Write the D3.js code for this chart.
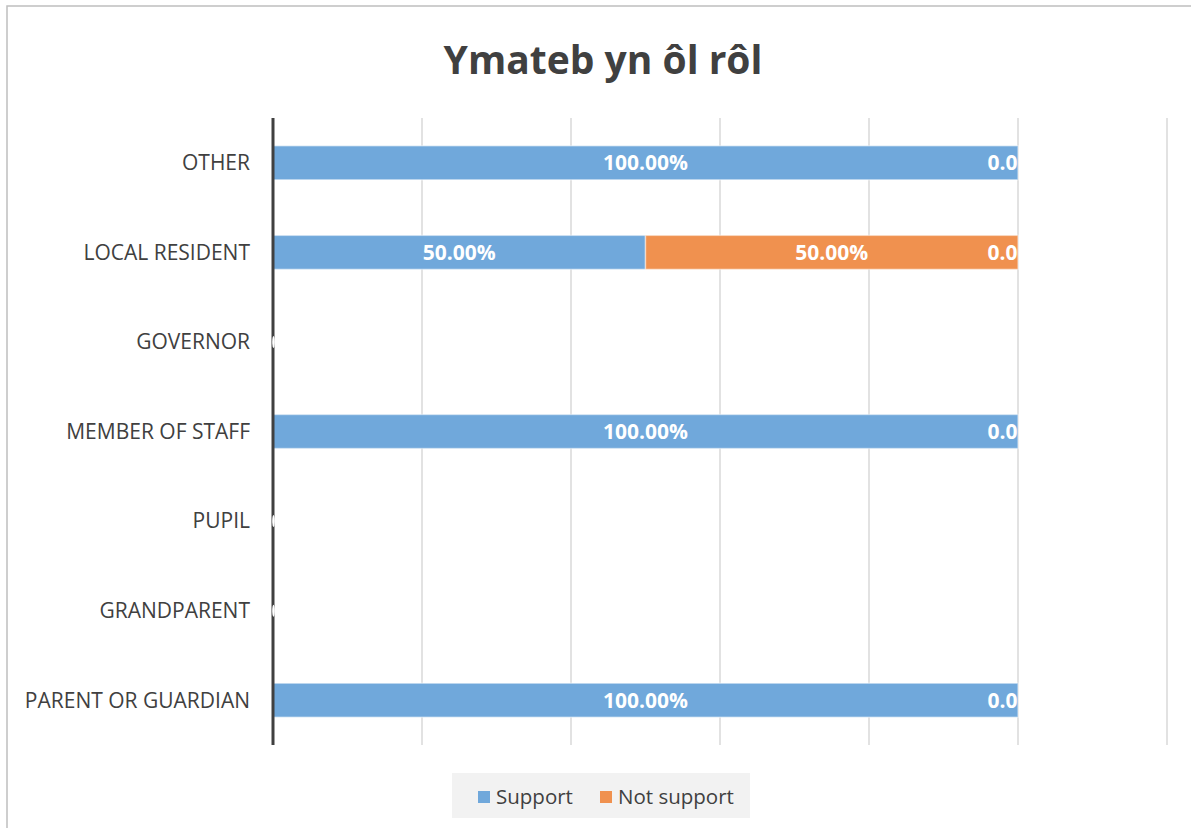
<!DOCTYPE html>
<html><head><meta charset="utf-8">
<script src="https://cdn.jsdelivr.net/npm/d3@7"></script>
<style>html,body{margin:0;padding:0;background:#fff;}svg{display:block;font-family:"Open Sans",sans-serif;}</style>
</head><body><svg id="c" width="1191" height="828"></svg>
<script>
const title = "Ymateb yn ôl rôl";
const categories = ["OTHER","LOCAL RESIDENT","GOVERNOR","MEMBER OF STAFF","PUPIL","GRANDPARENT","PARENT OR GUARDIAN"];
const support    = [1.0, 0.5, null, 1.0, null, null, 1.0];
const notSupport = [0.0, 0.5, null, 0.0, null, null, 0.0];
const noAnswer   = [0.0, 0.0, null, 0.0, null, null, 0.0];
const seriesNames = ["Support","Not support"];
const seriesColors = ["#70a8db","#f0914f"];
const xTicks = [0,0.2,0.4,0.6,0.8,1.0,1.2];

const svg = d3.select("#c");
svg.append("rect").attr("x",7).attr("y",6).attr("width",1300).attr("height",1000)
  .attr("fill","#fff").attr("stroke","#bfbfbf").attr("stroke-width",1.5);

svg.append("text").attr("x",603).attr("y",74).attr("text-anchor","middle")
  .attr("font-size",39).attr("font-weight",700).attr("fill","#404040").text(title);

const L=273, R=1167, T=118, B=745;
const x = d3.scaleLinear().domain([0,1.2]).range([L,R]);
const y = d3.scaleBand().domain(categories).range([T,B]).paddingInner(0.62).paddingOuter(0.31);

// gridlines
svg.append("g").selectAll("line").data(xTicks.slice(1)).join("line")
  .attr("x1",d=>x(d)).attr("x2",d=>x(d)).attr("y1",T).attr("y2",B)
  .attr("stroke","#d9d9d9").attr("stroke-width",1.5);

// bars
const rows = categories.map((c,i)=>({c, vals:[support[i],notSupport[i],noAnswer[i]]}));
const segs = [];
rows.forEach(r=>{
  let acc=0;
  r.vals.forEach((v,k)=>{
    const val = v==null?0:v;
    segs.push({c:r.c,k,x0:acc,x1:acc+val,v,empty:v==null});
    acc+=val;
  });
});
svg.append("g").selectAll("rect").data(segs.filter(s=>s.k<2 && s.x1>s.x0)).join("rect")
  .attr("x",d=>x(d.x0)).attr("y",d=>y(d.c)).attr("width",d=>x(d.x1)-x(d.x0)).attr("height",y.bandwidth())
  .attr("fill",d=>seriesColors[d.k]).attr("stroke","rgba(255,255,255,0.45)").attr("stroke-width",1.5);

// axis line
svg.append("line").attr("x1",L).attr("x2",L).attr("y1",T).attr("y2",B)
  .attr("stroke","#404040").attr("stroke-width",3);

// white notches on axis for rows without responses
svg.append("g").selectAll("ellipse").data(segs.filter(s=>s.empty && s.k===0)).join("ellipse")
  .attr("cx",x(0)+0.5).attr("cy",d=>y(d.c)+y.bandwidth()/2).attr("rx",1.3).attr("ry",6)
  .attr("fill","#fff");

// data labels clipped to plot
const defs = svg.append("defs");
defs.append("clipPath").attr("id","pc").append("rect")
  .attr("x",L).attr("y",T).attr("width",x(1)-L).attr("height",B-T);
const lg = svg.append("g").attr("clip-path","url(#pc)");
const labelSegs = segs.filter(s=>!s.empty && ((s.x1>s.x0) || s.k===2));
lg.selectAll("text").data(labelSegs).join("text")
  .attr("x",d=>x((d.x0+d.x1)/2)).attr("y",d=>y(d.c)+y.bandwidth()/2)
  .attr("dy","0.35em").attr("text-anchor","middle")
  .attr("font-size",21).attr("font-weight",700).attr("fill","#fff")
  .text(d=>d3.format(".2%")(d.v));

// category labels
svg.append("g").selectAll("text").data(categories).join("text")
  .attr("x",250).attr("y",d=>y(d)+y.bandwidth()/2).attr("dy","0.35em")
  .attr("text-anchor","end").attr("font-size",21).attr("fill","#404040").text(d=>d);

// legend
const leg = svg.append("g");
leg.append("rect").attr("x",452).attr("y",773).attr("width",298).attr("height",45).attr("fill","#f2f2f2");
const legX=[478,600];
seriesNames.forEach((n,i)=>{
  leg.append("rect").attr("x",legX[i]).attr("y",791).attr("width",12).attr("height",12).attr("fill",seriesColors[i]);
  leg.append("text").attr("x",legX[i]+18).attr("y",797).attr("dy","0.35em")
    .attr("font-size",20.5).attr("fill","#404040").text(n);
});
</script></body></html>
